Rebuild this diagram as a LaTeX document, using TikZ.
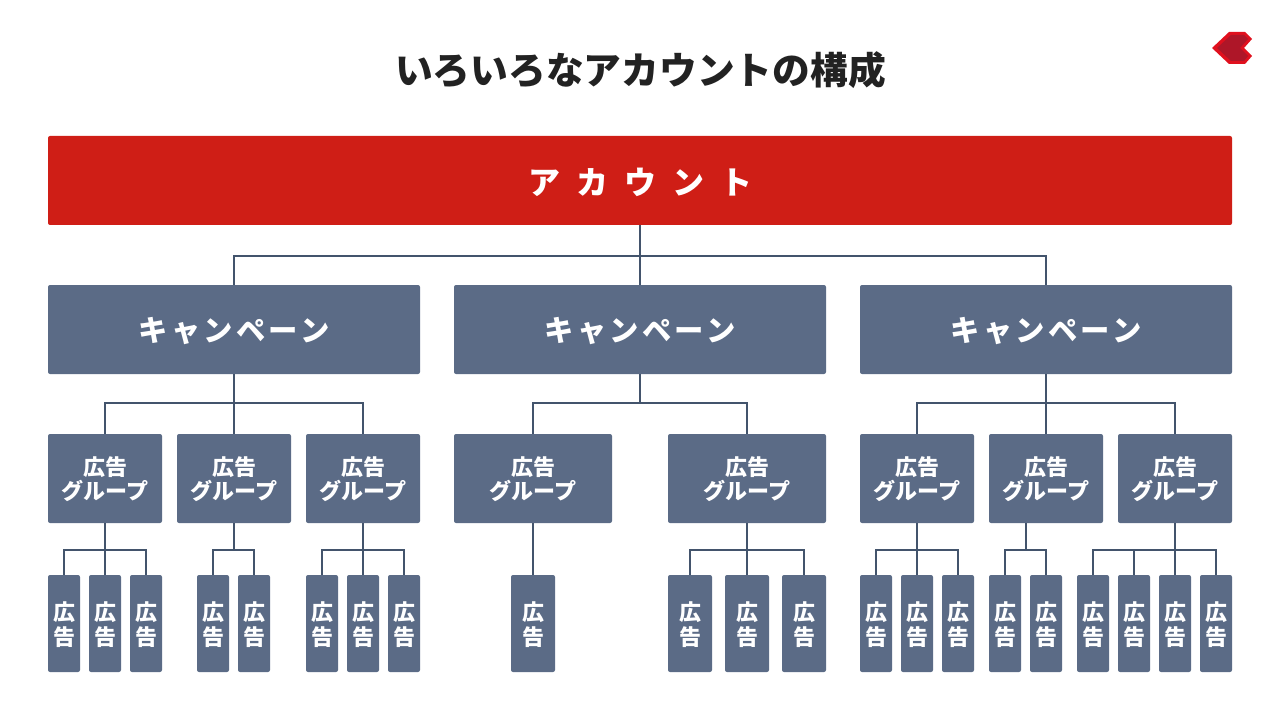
\documentclass[tikz,border=0pt]{standalone}
\usepackage{fontspec}
\setmainfont{Noto Sans CJK JP}
\definecolor{acctred}{HTML}{CF1E16}
\definecolor{boxblue}{HTML}{5B6B86}
\definecolor{linkblue}{HTML}{43546C}
\definecolor{titleink}{HTML}{222222}
\definecolor{logobright}{HTML}{E0101E}
\definecolor{logodark}{HTML}{AE1628}
\tikzset{
  box/.style={fill=boxblue, text=white, rounded corners=1.5pt, inner sep=0pt, align=center, font=\bfseries},
  link/.style={draw=linkblue, line width=1.5pt},
}
% parent point, bar, children
\newcommand{\branch}[3]{
  \foreach \c in {#3}
    \draw[link] ([xshift=-.3pt]#1) -- ([xshift=-.3pt]#1 |- #2) -| ([xshift=-.3pt]\c.north);
}
% pushes a node's text down a little
\newcommand{\lowered}{\raisebox{1.5pt}{\vphantom{広}}}
\begin{document}
\begin{tikzpicture}[x=.75pt, y=-.75pt]
    \useasboundingbox (0,0) rectangle (1280,720);
    \node (title) at (640.5,70) [text=titleink, font=\bfseries\fontsize{28.3}{34}\selectfont] {いろいろなアカウントの構成};
    \fill[logobright] (1212,48) -- (1229,32) -- (1245,32) -- (1252,39) -- (1244,48) -- (1252,56) -- (1245,64) -- (1229,64) -- cycle;
    \fill[logodark] (1217,48) -- (1231,35) -- (1244,35) -- (1248,39) -- (1240,48) -- (1248,56) -- (1244,61) -- (1231,61) -- cycle;
    \node (acct) at (640,180.5) [box, fill=acctred, minimum width=888pt, minimum height=66.75pt,
      font=\bfseries\fontsize{24}{28}\selectfont\addfontfeature{LetterSpace=50}] {\lowered アカウント};
    \foreach \name/\cx in {camp1/234, camp2/640, camp3/1046}
      \node (\name) at (\cx,329.5) [box, minimum width=279pt, minimum height=66.75pt,
        font=\bfseries\fontsize{22}{26}\selectfont\addfontfeature{LetterSpace=11}] {\lowered キャンペーン};
    \foreach \name/\cx/\w in {g11/105/114, g12/234/114, g13/363/114, g21/533/158, g22/747/158,
                              g31/917/114, g32/1046/114, g33/1175/114}
      \node (\name) at (\cx,478.5) [box, minimum width=\w*.75pt, minimum height=66.75pt,
        font=\bfseries\fontsize{16.5}{18}\selectfont] {\lowered 広告\\グループ};
    \foreach \name/\cx/\w in {a1/64/32, a2/105/32, a3/146/32, a4/213/32, a5/254/32, a6/322/32, a7/363/32, a8/404/32,
                              a9/533/44, a10/690/44, a11/747/44, a12/804/44,
                              a13/876/32, a14/917/32, a15/958/32, a16/1005/32, a17/1046/32,
                              a18/1093/32, a19/1134/32, a20/1175/32, a21/1216/32}
      \node (\name) at (\cx,623.5) [box, minimum width=\w*.75pt, minimum height=72.75pt,
        font=\bfseries\fontsize{16.5}{18.5}\selectfont] {\lowered 広\\告};
    \coordinate (barA) at (0,256);
    \coordinate (barB) at (0,403);
    \coordinate (barC) at (0,550);
    \coordinate (g32drop) at (1026,523);
    \branch{acct.south}{barA}{camp1,camp2,camp3}
    \branch{camp1.south}{barB}{g11,g12,g13}
    \branch{camp2.south}{barB}{g21,g22}
    \branch{camp3.south}{barB}{g31,g32,g33}
    \branch{g11.south}{barC}{a1,a2,a3}
    \branch{g12.south}{barC}{a4,a5}
    \branch{g13.south}{barC}{a6,a7,a8}
    \branch{g21.south}{barC}{a9}
    \branch{g22.south}{barC}{a10,a11,a12}
    \branch{g31.south}{barC}{a13,a14,a15}
    \branch{g32drop}{barC}{a16,a17}
    \branch{g33.south}{barC}{a18,a19,a20,a21}
\end{tikzpicture}
\end{document}
